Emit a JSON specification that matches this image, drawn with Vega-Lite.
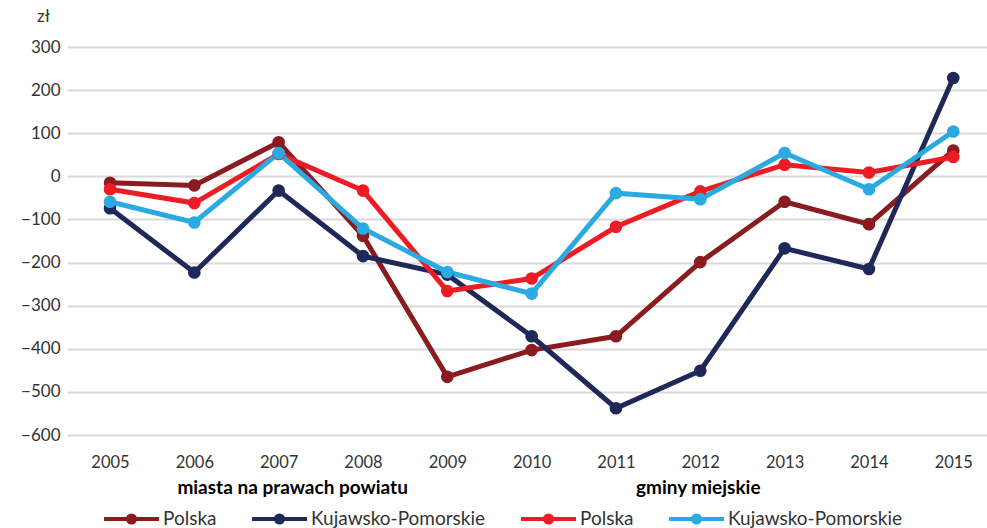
{
  "$schema": "https://vega.github.io/schema/vega-lite/v6.json",
  "width": 920,
  "height": 388,
  "autosize": {"type": "none"},
  "padding": {"left": 67, "top": 47, "right": 0, "bottom": 93},
  "config": {"view": {"stroke": null}, "font": "Lato"},
  "data": {"values": [
    {"year": 2005, "s": "P1", "v": -15}, {"year": 2006, "s": "P1", "v": -21}, {"year": 2007, "s": "P1", "v": 79}, {"year": 2008, "s": "P1", "v": -138}, {"year": 2009, "s": "P1", "v": -465}, {"year": 2010, "s": "P1", "v": -403}, {"year": 2011, "s": "P1", "v": -371}, {"year": 2012, "s": "P1", "v": -199}, {"year": 2013, "s": "P1", "v": -59}, {"year": 2014, "s": "P1", "v": -111}, {"year": 2015, "s": "P1", "v": 60},
    {"year": 2005, "s": "K1", "v": -74}, {"year": 2006, "s": "K1", "v": -223}, {"year": 2007, "s": "K1", "v": -33}, {"year": 2008, "s": "K1", "v": -185}, {"year": 2009, "s": "K1", "v": -228}, {"year": 2010, "s": "K1", "v": -371}, {"year": 2011, "s": "K1", "v": -538}, {"year": 2012, "s": "K1", "v": -451}, {"year": 2013, "s": "K1", "v": -167}, {"year": 2014, "s": "K1", "v": -215}, {"year": 2015, "s": "K1", "v": 228},
    {"year": 2005, "s": "P2", "v": -30}, {"year": 2006, "s": "P2", "v": -62}, {"year": 2007, "s": "P2", "v": 52}, {"year": 2008, "s": "P2", "v": -33}, {"year": 2009, "s": "P2", "v": -266}, {"year": 2010, "s": "P2", "v": -237}, {"year": 2011, "s": "P2", "v": -117}, {"year": 2012, "s": "P2", "v": -35}, {"year": 2013, "s": "P2", "v": 27}, {"year": 2014, "s": "P2", "v": 9}, {"year": 2015, "s": "P2", "v": 45},
    {"year": 2005, "s": "K2", "v": -59}, {"year": 2006, "s": "K2", "v": -107}, {"year": 2007, "s": "K2", "v": 54}, {"year": 2008, "s": "K2", "v": -121}, {"year": 2009, "s": "K2", "v": -222}, {"year": 2010, "s": "K2", "v": -272}, {"year": 2011, "s": "K2", "v": -39}, {"year": 2012, "s": "K2", "v": -53}, {"year": 2013, "s": "K2", "v": 54}, {"year": 2014, "s": "K2", "v": -30}, {"year": 2015, "s": "K2", "v": 104}
  ]},
  "encoding": {
    "y": {
      "field": "v", "type": "quantitative",
      "scale": {"domain": [-600, 300], "nice": false},
      "axis": {
        "values": [-600, -500, -400, -300, -200, -100, 0, 100, 200, 300],
        "title": "zł", "titleAngle": 0, "titleX": -24, "titleY": -31,
        "titleAlign": "center", "titleBaseline": "middle",
        "titleFontWeight": "normal", "titleFontSize": 17, "titleColor": "#333333", "titleFont": "Lato",
        "domain": false, "ticks": false, "labelPadding": 7,
        "labelFontSize": 17, "labelColor": "#333333",
        "gridColor": "#d9d9d9", "gridWidth": 2
      }
    },
    "color": {
      "field": "s", "type": "nominal",
      "scale": {"domain": ["P1", "K1", "P2", "K2"], "range": ["#8A1B1F", "#1F2959", "#ED1C24", "#2BAAE2"]},
      "legend": {
        "orient": "none", "legendX": 35, "legendY": 442, "direction": "horizontal", "title": null,
        "labelExpr": "datum.value == 'P1' || datum.value == 'P2' ? 'Polska' : 'Kujawsko-Pomorskie'",
        "labelFontSize": 19, "labelColor": "#333333", "labelOffset": 2, "labelLimit": 400,
        "symbolType": "M-1,0L1,0M0.13,0A0.13,0.13,0,1,1,-0.13,0A0.13,0.13,0,1,1,0.13,0Z",
        "symbolSize": 3025, "symbolStrokeWidth": 4, "columnPadding": 27,
        "symbolOpacity": 1,
        "encode": {"symbols": {"update": {"fill": {"scale": "color", "field": "value"}, "stroke": {"scale": "color", "field": "value"}}}}
      }
    }
  },
  "layer": [
    {
      "mark": {"type": "line", "strokeWidth": 5},
      "encoding": {
        "x": {
          "field": "year", "type": "quantitative",
          "scale": {"domain": [2004.49, 2015.4], "nice": false, "zero": false},
          "axis": {"values": [2005, 2006, 2007, 2008, 2009, 2010, 2011, 2012, 2013, 2014, 2015], "format": "d", "grid": false, "domain": false, "ticks": false, "labelPadding": 19, "labelFontSize": 16.5, "labelColor": "#333333", "title": null, "orient": "bottom"}
        }
      }
    },
    {
      "mark": {"type": "circle", "size": 160, "opacity": 1},
      "encoding": {
        "x": {
          "field": "year", "type": "quantitative",
          "axis": {"values": [2007.16, 2011.97], "labelExpr": "datum.value < 2010 ? 'miasta na prawach powiatu' : 'gminy miejskie'", "labelFontWeight": "bold", "labelFontSize": 19, "labelColor": "#000000", "labelPadding": 43, "labelLimit": 500, "grid": false, "domain": false, "ticks": false, "title": null, "orient": "bottom", "labelFlush": false, "labelOverlap": false}
        }
      }
    }
  ],
  "resolve": {"axis": {"x": "independent"}}
}
